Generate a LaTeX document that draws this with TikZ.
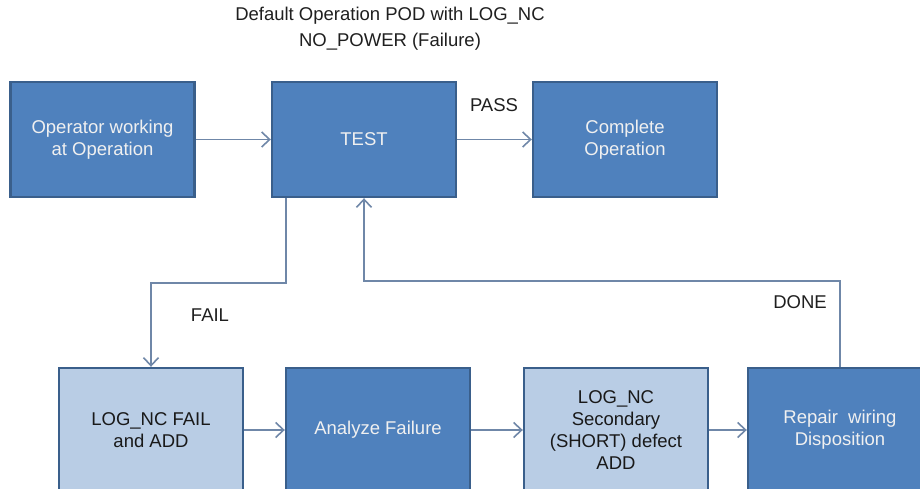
\documentclass[tikz,border=0pt]{standalone}
\usepackage{fontspec}
\setmainfont{Liberation Sans}
\usetikzlibrary{arrows.meta,positioning}

\definecolor{boxdark}{HTML}{4F81BD}
\definecolor{boxlight}{HTML}{B9CDE5}
\definecolor{boxedge}{HTML}{3A5F8B}
\definecolor{linkgray}{HTML}{6F87A8}

\begin{document}
\begin{tikzpicture}[x=1pt, y=-1pt,
    darkbox/.style={draw=boxedge, line width=2.4pt, fill=boxdark, text=white!94!black,
        minimum width=184pt, minimum height=115pt, align=center,
        font=\fontsize{18.5}{22}\selectfont},
    lightbox/.style={darkbox, fill=boxlight, text=black!90},
    conn/.style={draw=linkgray, line width=1.6pt, -{Straight Barb[length=8pt,width=15pt,line width=1.6pt]}},
    lbl/.style={font=\fontsize{18.5}{22}\selectfont, text=black!88}]
    \useasboundingbox (0,0) rectangle (920,489);
    \clip (0,0) rectangle (920,489);

    % Title
    \node[lbl, align=center, font=\fontsize{18.5}{26}\selectfont] (title) at (390,29) {Default Operation POD with LOG\_NC\\NO\_POWER (Failure)};

    % Top row
    \node[darkbox] (oper) at (102.5,139.5) {Operator working\\at Operation};
    \node[darkbox] (test) at (364,139.5) {TEST};
    \node[darkbox] (comp) at (625,139.5) {Complete\\Operation};

    % Bottom row (cut off by the page edge)
    \node[lightbox, minimum height=124pt] (fail) at (151,430) {LOG\_NC FAIL\\and ADD};
    \node[darkbox, minimum height=124pt] (anlz) at (378,430) {Analyze Failure};
    \node[lightbox, minimum height=124pt] (scnd) at (616,430) {LOG\_NC\\Secondary\\(SHORT) defect\\ADD};
    \node[darkbox, minimum height=124pt] (rpr) at (840,430) {Repair~~wiring\\Disposition};

    % Connectors
    \draw[conn] (oper.east) -- (test.west);
    \draw[conn] (test.east) -- (comp.west);
    \draw[conn] ([xshift=15pt]test.south west) -- ++(0,85) -| (fail.north);
    \draw[conn] (fail.east) -- (anlz.west);
    \draw[conn] (anlz.east) -- (scnd.west);
    \draw[conn] (scnd.east) -- (rpr.west);
    \draw[conn] (rpr.north) -- ++(0,-86) -| (test.south);

    % Labels
    \node[lbl] (pass) at (494,105) {PASS};
    \node[lbl] (failtxt) at (210,315) {FAIL};
    \node[lbl] (done) at (800,302) {DONE};
\end{tikzpicture}
\end{document}
